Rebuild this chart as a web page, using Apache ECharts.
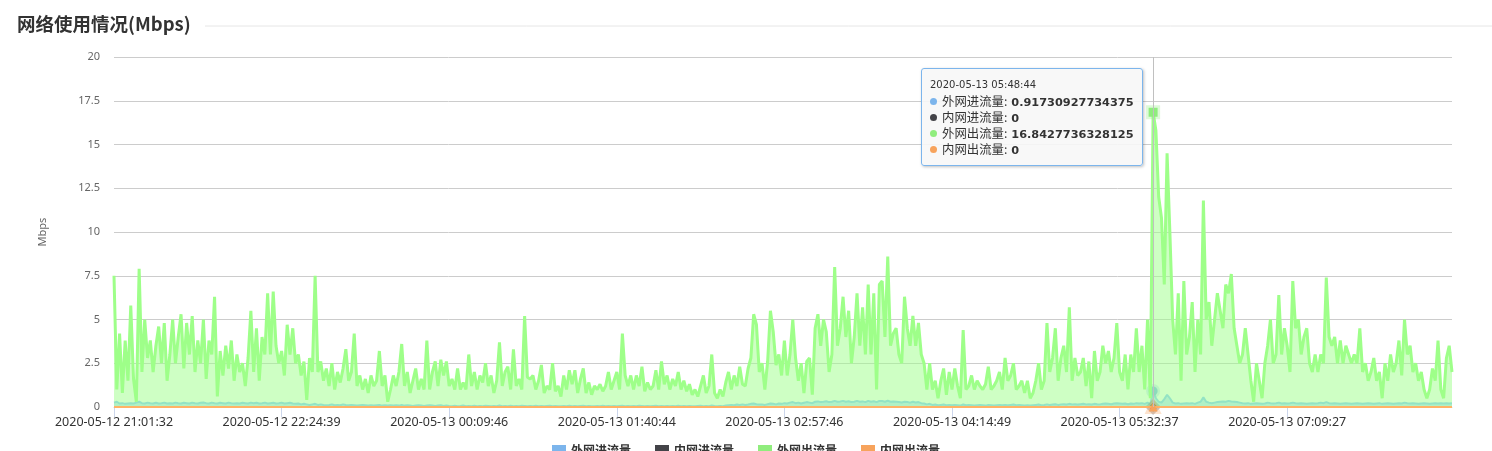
<!DOCTYPE html>
<html>
<head>
<meta charset="utf-8">
<script src="https://cdn.jsdelivr.net/npm/echarts@6/dist/echarts.min.js"></script>
<style>
html,body{margin:0;padding:0;background:#fff;}
#main{width:1492px;height:451px;}
</style>
</head>
<body>
<div id="main"></div>
<script>
// ---------- DATA ----------
const titleText = '网络使用情况(Mbps)';
const yAxisName = 'Mbps';
const seriesNames = ['外网进流量', '内网进流量', '外网出流量', '内网出流量'];
const seriesColors = ['#7cb5ec', '#434348', '#90ed7d', '#f7a35c'];
const seriesSymbols = ['circle', 'diamond', 'rect', 'triangle'];
const yTicks = [0, 2.5, 5, 7.5, 10, 12.5, 15, 17.5, 20];
// x tick labels (every LABEL_STEP categories)
const tickLabels = ['2020-05-12 21:01:32', '2020-05-12 22:24:39', '2020-05-13 00:09:46', '2020-05-13 01:40:44',
  '2020-05-13 02:57:46', '2020-05-13 04:14:49', '2020-05-13 05:32:37', '2020-05-13 07:09:27'];
const LABEL_STEP = 60;
const hoverTime = '2020-05-13 05:48:44';
const HOVER_INDEX = 372;

// 外网进流量
const extIn = [
 [0.25,0.3,0.2,0.22,0.18,0.2,0.22,0.2,0.25,0.3,0.22,0.2,0.25,0.22,0.2,0.24,0.2,0.22,0.25,0.2],
 [0.22,0.2,0.25,0.22,0.2,0.24,0.22,0.2,0.25,0.22,0.2,0.24,0.26,0.22,0.2,0.25,0.22,0.2,0.24,0.22],
 [0.2,0.25,0.22,0.2,0.22,0.2,0.24,0.22,0.2,0.25,0.22,0.24,0.2,0.22,0.25,0.2,0.22,0.24,0.2,0.22],
 [0.25,0.2,0.22,0.24,0.2,0.18,0.2,0.15,0.18,0.15,0.12,0.15,0.18,0.12,0.15,0.12,0.1,0.12,0.15,0.1],
 [0.12,0.1,0.15,0.12,0.1,0.12,0.1,0.08,0.1,0.12,0.1,0.08,0.1,0.08,0.1,0.12,0.08,0.1,0.08,0.1],
 [0.08,0.1,0.08,0.12,0.08,0.1,0.08,0.06,0.08,0.1,0.08,0.06,0.08,0.1,0.08,0.06,0.08,0.1,0.06,0.08],
 [0.06,0.05,0.07,0.05,0.06,0.08,0.05,0.06,0.05,0.07,0.05,0.06,0.05,0.07,0.06,0.05,0.06,0.05,0.08,0.05],
 [0.06,0.05,0.07,0.05,0.06,0.05,0.07,0.06,0.05,0.06,0.05,0.07,0.05,0.06,0.05,0.06,0.07,0.05,0.06,0.05],
 [0.05,0.06,0.05,0.07,0.05,0.06,0.05,0.06,0.07,0.05,0.06,0.05,0.05,0.06,0.05,0.07,0.05,0.06,0.05,0.06],
 [0.05,0.06,0.07,0.05,0.06,0.05,0.06,0.05,0.07,0.06,0.05,0.06,0.05,0.06,0.07,0.05,0.06,0.05,0.06,0.05],
 [0.06,0.05,0.07,0.05,0.06,0.05,0.06,0.05,0.05,0.06,0.07,0.05,0.06,0.05,0.08,0.06,0.05,0.06,0.05,0.08],
 [0.1,0.12,0.1,0.14,0.12,0.15,0.12,0.14,0.18,0.2,0.16,0.14,0.15,0.12,0.16,0.2,0.18,0.15,0.2,0.18],
 [0.22,0.2,0.25,0.28,0.22,0.25,0.2,0.24,0.28,0.25,0.22,0.3,0.32,0.28,0.3,0.33,0.28,0.3,0.35,0.3],
 [0.32,0.35,0.3,0.33,0.28,0.3,0.35,0.3,0.32,0.28,0.35,0.3,0.33,0.28,0.35,0.34,0.3,0.36,0.3,0.32],
 [0.3,0.28,0.26,0.3,0.28,0.25,0.3,0.26,0.28,0.22,0.2,0.15,0.18,0.12,0.14,0.1,0.12,0.14,0.1,0.12],
 [0.1,0.12,0.1,0.08,0.14,0.1,0.12,0.1,0.08,0.1,0.12,0.1,0.08,0.12,0.1,0.08,0.1,0.12,0.1,0.12],
 [0.1,0.12,0.14,0.1,0.12,0.1,0.08,0.1,0.08,0.1,0.12,0.14,0.1,0.12,0.15,0.12,0.14,0.16,0.12,0.15],
 [0.16,0.14,0.18,0.15,0.16,0.14,0.16,0.18,0.15,0.16,0.14,0.18,0.16,0.15,0.18,0.2,0.18,0.16,0.2,0.22],
 [0.2,0.18,0.2,0.16,0.2,0.18,0.22,0.2,0.22,0.18,0.25,0.15,0.91730927734375,0.5,0.3,0.25,0.45,0.7,0.5,0.25],
 [0.2,0.22,0.18,0.2,0.22,0.2,0.22,0.18,0.25,0.3,0.55,0.3,0.25,0.22,0.25,0.28,0.3,0.32,0.3,0.35],
 [0.32,0.3,0.28,0.25,0.22,0.2,0.22,0.18,0.2,0.22,0.2,0.18,0.2,0.25,0.22,0.2,0.22,0.25,0.2,0.22],
 [0.2,0.22,0.25,0.22,0.2,0.22,0.2,0.18,0.2,0.22,0.2,0.22,0.25,0.22,0.28,0.22,0.2,0.22,0.2,0.18],
 [0.2,0.22,0.2,0.18,0.2,0.22,0.2,0.18,0.2,0.22,0.2,0.18,0.2,0.22,0.18,0.2,0.22,0.2,0.18,0.2],
 [0.22,0.2,0.25,0.22,0.2,0.22,0.2,0.18,0.2,0.22,0.2,0.18,0.2,0.22,0.2,0.22,0.2,0.22,0.2,0.22]
].flat();

// 内网进流量
const intIn = [
 [0,0,0,0,0,0,0,0,0,0,0,0,0,0,0,0,0,0,0,0],[0,0,0,0,0,0,0,0,0,0,0,0,0,0,0,0,0,0,0,0],
 [0,0,0,0,0,0,0,0,0,0,0,0,0,0,0,0,0,0,0,0],[0,0,0,0,0,0,0,0,0,0,0,0,0,0,0,0,0,0,0,0],
 [0,0,0,0,0,0,0,0,0,0,0,0,0,0,0,0,0,0,0,0],[0,0,0,0,0,0,0,0,0,0,0,0,0,0,0,0,0,0,0,0],
 [0,0,0,0,0,0,0,0,0,0,0,0,0,0,0,0,0,0,0,0],[0,0,0,0,0,0,0,0,0,0,0,0,0,0,0,0,0,0,0,0],
 [0,0,0,0,0,0,0,0,0,0,0,0,0,0,0,0,0,0,0,0],[0,0,0,0,0,0,0,0,0,0,0,0,0,0,0,0,0,0,0,0],
 [0,0,0,0,0,0,0,0,0,0,0,0,0,0,0,0,0,0,0,0],[0,0,0,0,0,0,0,0,0,0,0,0,0,0,0,0,0,0,0,0],
 [0,0,0,0,0,0,0,0,0,0,0,0,0,0,0,0,0,0,0,0],[0,0,0,0,0,0,0,0,0,0,0,0,0,0,0,0,0,0,0,0],
 [0,0,0,0,0,0,0,0,0,0,0,0,0,0,0,0,0,0,0,0],[0,0,0,0,0,0,0,0,0,0,0,0,0,0,0,0,0,0,0,0],
 [0,0,0,0,0,0,0,0,0,0,0,0,0,0,0,0,0,0,0,0],[0,0,0,0,0,0,0,0,0,0,0,0,0,0,0,0,0,0,0,0],
 [0,0,0,0,0,0,0,0,0,0,0,0,0,0,0,0,0,0,0,0],[0,0,0,0,0,0,0,0,0,0,0,0,0,0,0,0,0,0,0,0],
 [0,0,0,0,0,0,0,0,0,0,0,0,0,0,0,0,0,0,0,0],[0,0,0,0,0,0,0,0,0,0,0,0,0,0,0,0,0,0,0,0],
 [0,0,0,0,0,0,0,0,0,0,0,0,0,0,0,0,0,0,0,0],[0,0,0,0,0,0,0,0,0,0,0,0,0,0,0,0,0,0,0,0]
].flat();

// 外网出流量
const extOut = [
 [7.5,1.0,4.2,0.8,3.8,1.5,5.8,1.6,0.3,7.9,2.0,5.0,2.8,3.8,2.0,3.5,4.6,2.5,4.8,1.5],
 [3.0,5.0,2.5,4.0,5.3,2.2,4.8,3.0,5.2,2.0,3.8,2.5,5.0,1.6,3.8,3.0,6.3,0.6,3.2,1.8],
 [3.5,2.2,3.8,1.5,3.0,2.0,2.5,1.2,2.8,5.5,2.0,4.5,1.5,4.0,3.0,6.5,3.0,6.6,3.5,2.5],
 [3.2,1.8,4.7,3.0,4.5,2.5,3.0,1.8,2.6,0.4,2.8,2.0,7.5,2.0,2.6,1.5,2.2,1.2,2.5,1.0],
 [2.0,1.4,2.2,3.3,1.5,2.0,4.2,1.2,1.8,1.0,1.6,0.8,1.8,1.2,1.5,3.2,1.2,1.8,0.3,1.0],
 [1.8,1.2,2.0,3.6,1.2,2.0,0.8,1.5,2.2,1.0,1.6,1.0,3.8,1.0,2.0,2.6,1.2,2.7,1.8,2.6],
 [1.2,1.6,1.0,2.2,1.0,1.4,1.0,3.0,1.2,2.0,1.0,1.8,1.4,2.5,1.2,1.8,0.8,1.5,3.7,1.2],
 [2.0,2.3,1.0,3.3,1.2,1.6,1.0,5.2,1.7,1.6,1.8,1.0,1.5,2.4,0.8,1.2,1.0,2.5,0.9,1.2],
 [0.6,1.8,1.0,2.1,1.3,2.1,0.8,1.6,2.2,0.8,1.4,0.7,1.2,1.0,1.3,0.9,1.2,2.0,1.0,1.5],
 [2.0,1.0,4.2,1.8,1.2,1.8,1.0,1.8,1.2,2.3,0.9,1.4,1.0,1.2,2.1,1.0,2.6,1.3,1.8,1.0],
 [1.6,1.2,2.0,1.0,1.5,0.9,1.3,0.7,1.0,0.6,1.2,1.8,0.8,1.2,3.0,0.8,0.5,1.0,0.6,1.4],
 [2.0,1.0,1.8,1.2,2.3,1.3,1.2,2.2,2.8,5.3,4.7,2.0,2.5,1.0,2.6,5.5,4.3,2.4,3.0,1.8],
 [3.8,1.8,3.0,5.0,2.8,1.5,2.5,0.8,2.6,2.8,0.7,4.5,5.3,3.5,5.0,4.3,2.0,3.0,8.0,3.5],
 [4.5,6.3,4.0,5.5,2.5,4.0,6.5,3.5,5.7,3.0,7.0,3.0,6.5,1.0,7.0,7.2,4.0,8.6,3.5,4.2],
 [4.5,3.0,2.5,6.3,4.5,3.5,5.2,3.5,4.8,3.0,2.5,1.0,2.5,1.0,1.5,0.5,1.5,2.2,0.7,2.0],
 [1.0,2.2,1.2,0.5,4.4,1.0,1.2,1.8,1.0,1.5,1.2,1.0,1.3,2.3,1.0,1.2,1.5,2.0,1.0,2.8],
 [1.5,1.8,2.5,1.0,1.2,1.5,0.8,1.5,0.5,0.8,1.5,2.5,1.0,1.5,4.8,2.0,2.8,4.5,1.5,2.8],
 [3.5,2.0,5.7,1.5,2.8,1.8,2.0,2.8,1.2,2.6,0.5,3.2,1.5,2.0,3.5,2.5,3.2,2.0,2.8,4.8],
 [2.0,1.5,3.0,1.0,3.0,2.0,4.5,2.0,3.5,1.0,5.0,0.5,16.8427736328125,15.8,12.0,10.8,7.0,14.5,10.0,5.0],
 [3.0,6.5,1.5,7.2,3.0,4.0,6.0,2.0,5.0,3.0,11.8,5.0,6.0,3.5,5.0,6.5,5.5,4.5,7.0,6.5],
 [7.6,4.5,3.5,2.5,3.0,4.5,3.0,1.5,0.3,2.5,1.5,0.5,2.5,3.5,5.0,2.5,3.0,6.4,3.0,4.5],
 [3.5,2.0,7.2,4.5,5.0,3.0,4.0,4.5,2.5,2.0,3.0,2.0,3.0,2.5,7.4,4.0,3.5,4.0,2.5,3.8],
 [2.5,3.5,3.0,2.5,3.0,2.5,4.5,2.0,2.5,1.5,2.0,2.8,1.5,2.0,0.5,2.5,1.5,3.0,2.0,2.5],
 [3.8,1.8,5.0,3.0,3.5,2.0,2.5,1.5,2.0,1.0,0.5,1.0,2.2,1.5,3.8,1.0,0.5,2.8,3.5,2.0]
].flat();

// 内网出流量
const intOut = [
 [0,0,0,0,0,0,0,0,0,0,0,0,0,0,0,0,0,0,0,0],[0,0,0,0,0,0,0,0,0,0,0,0,0,0,0,0,0,0,0,0],
 [0,0,0,0,0,0,0,0,0,0,0,0,0,0,0,0,0,0,0,0],[0,0,0,0,0,0,0,0,0,0,0,0,0,0,0,0,0,0,0,0],
 [0,0,0,0,0,0,0,0,0,0,0,0,0,0,0,0,0,0,0,0],[0,0,0,0,0,0,0,0,0,0,0,0,0,0,0,0,0,0,0,0],
 [0,0,0,0,0,0,0,0,0,0,0,0,0,0,0,0,0,0,0,0],[0,0,0,0,0,0,0,0,0,0,0,0,0,0,0,0,0,0,0,0],
 [0,0,0,0,0,0,0,0,0,0,0,0,0,0,0,0,0,0,0,0],[0,0,0,0,0,0,0,0,0,0,0,0,0,0,0,0,0,0,0,0],
 [0,0,0,0,0,0,0,0,0,0,0,0,0,0,0,0,0,0,0,0],[0,0,0,0,0,0,0,0,0,0,0,0,0,0,0,0,0,0,0,0],
 [0,0,0,0,0,0,0,0,0,0,0,0,0,0,0,0,0,0,0,0],[0,0,0,0,0,0,0,0,0,0,0,0,0,0,0,0,0,0,0,0],
 [0,0,0,0,0,0,0,0,0,0,0,0,0,0,0,0,0,0,0,0],[0,0,0,0,0,0,0,0,0,0,0,0,0,0,0,0,0,0,0,0],
 [0,0,0,0,0,0,0,0,0,0,0,0,0,0,0,0,0,0,0,0],[0,0,0,0,0,0,0,0,0,0,0,0,0,0,0,0,0,0,0,0],
 [0,0,0,0,0,0,0,0,0,0,0,0,0,0,0,0,0,0,0,0],[0,0,0,0,0,0,0,0,0,0,0,0,0,0,0,0,0,0,0,0],
 [0,0,0,0,0,0,0,0,0,0,0,0,0,0,0,0,0,0,0,0],[0,0,0,0,0,0,0,0,0,0,0,0,0,0,0,0,0,0,0,0],
 [0,0,0,0,0,0,0,0,0,0,0,0,0,0,0,0,0,0,0,0],[0,0,0,0,0,0,0,0,0,0,0,0,0,0,0,0,0,0,0,0]
].flat();

// ---------- categories (timestamps) from the tick-label anchors ----------
function parseTime(s) {
  const [d, t] = s.split(' ');
  const [Y, M, D] = d.split('-').map(Number);
  const [h, m, sec] = t.split(':').map(Number);
  return Date.UTC(Y, M - 1, D, h, m, sec);
}
function fmtTime(ms) {
  const d = new Date(ms);
  const p = n => String(n).padStart(2, '0');
  return d.getUTCFullYear() + '-' + p(d.getUTCMonth() + 1) + '-' + p(d.getUTCDate()) + ' ' +
    p(d.getUTCHours()) + ':' + p(d.getUTCMinutes()) + ':' + p(d.getUTCSeconds());
}
const N = extOut.length;
const anchors = tickLabels.map((s, k) => [k * LABEL_STEP, parseTime(s)]);
anchors.push([HOVER_INDEX, parseTime(hoverTime)]);
anchors.sort((a, b) => a[0] - b[0]);
const categories = [];
for (let i = 0; i < N; i++) {
  let a = anchors[0], b = anchors[1];
  for (let k = 0; k < anchors.length - 1; k++) {
    if (i >= anchors[k][0]) { a = anchors[k]; b = anchors[k + 1]; }
  }
  const ms = a[1] + (b[1] - a[1]) * (i - a[0]) / (b[0] - a[0]);
  categories.push(fmtTime(Math.round(ms / 1000) * 1000));
}

// ---------- chart ----------
const FONT = "'Noto Sans', 'Noto Sans CJK SC', sans-serif";
const TIP_FONT = "'DejaVu Sans', 'Noto Sans CJK SC', sans-serif";
const chart = echarts.init(document.getElementById('main'), null, { renderer: 'canvas' });
const seriesData = [extIn, intIn, extOut, intOut];
function rgba(hex, a) {
  const n = parseInt(hex.slice(1), 16);
  return `rgba(${(n >> 16) & 255},${(n >> 8) & 255},${n & 255},${a})`;
}

const option = {
  animation: false,
  textStyle: { fontFamily: FONT },
  title: {
    text: titleText, left: 12, top: 10,
    textStyle: { fontSize: 18.5, fontWeight: 'bold', color: '#333', fontFamily: "'Noto Sans CJK SC', sans-serif" }
  },
  graphic: [{
    type: 'line', shape: { x1: 205, y1: 26, x2: 1492, y2: 26 },
    style: { stroke: '#e6e6e6', lineWidth: 1 }, silent: true
  }],
  grid: { left: 114, right: 40, top: 57, bottom: 44 },
  legend: {
    data: seriesNames, left: 'center', top: 440, icon: 'rect',
    itemWidth: 14, itemHeight: 14, itemGap: 24,
    textStyle: { fontSize: 12, fontWeight: 'bold', color: '#333', fontFamily: FONT }
  },
  tooltip: {
    trigger: 'axis', alwaysShowContent: true, confine: false,
    position: function () { return [921, 68]; },
    backgroundColor: 'rgba(247,247,247,0.9)', borderColor: '#7cb5ec', borderWidth: 1,
    padding: [8, 8],
    textStyle: { fontFamily: FONT, fontSize: 12, color: '#333' },
    extraCssText: 'border-radius:3px;box-shadow:1px 1px 3px rgba(0,0,0,0.25);line-height:16px;',
    axisPointer: { type: 'line', lineStyle: { color: '#c0c0c0', width: 1, type: 'solid' } },
    formatter: function (params) {
      let h = `<div style="font-family:${TIP_FONT};font-size:10px;height:16px;line-height:16px;color:#333;white-space:nowrap">${params[0].axisValue}</div>`;
      params.forEach(p => {
        h += `<div style="font-family:${TIP_FONT};font-size:12.4px;height:16px;line-height:16px;overflow:visible;color:#333;white-space:nowrap">` +
          `<span style="display:inline-block;width:7px;height:7px;border-radius:50%;background:${seriesColors[p.seriesIndex]};margin-right:5px;vertical-align:1px"></span>` +
          `<span style="font-family:'Noto Sans CJK SC',sans-serif;line-height:16px">${p.seriesName}:</span> ` +
          `<b style="font-size:11.3px;line-height:16px">${p.value}</b></div>`;
      });
      return h;
    }
  },
  xAxis: {
    type: 'category', boundaryGap: false, data: categories,
    axisLine: { lineStyle: { color: '#ccd6eb', width: 1 } },
    axisTick: { show: true, interval: LABEL_STEP - 1, length: 10, lineStyle: { color: '#ccd6eb' } },
    axisLabel: { interval: LABEL_STEP - 1, color: '#333', fontSize: 12.5, margin: 9, fontFamily: FONT },
    splitLine: { show: false }
  },
  yAxis: {
    type: 'value', min: yTicks[0], max: yTicks[yTicks.length - 1], interval: yTicks[1] - yTicks[0],
    name: yAxisName, nameLocation: 'middle', nameGap: 66, nameRotate: 90,
    nameTextStyle: { color: '#666', fontSize: 11, fontFamily: FONT },
    axisLine: { show: false }, axisTick: { show: false },
    axisLabel: { color: '#666', fontSize: 11, margin: 14, fontFamily: FONT },
    splitLine: { lineStyle: { color: '#cccccc', width: 1 } }
  },
  series: seriesNames.map((name, k) => ({
    name: name, type: 'line', data: seriesData[k],
    showSymbol: false, symbol: seriesSymbols[k], symbolSize: 9,
    itemStyle: { color: seriesColors[k] },
    lineStyle: { width: k === 2 ? 3 : 2, color: seriesColors[k] },
    areaStyle: (k === 0 || k === 2) ? { color: seriesColors[k], opacity: 0.5 } : undefined,
    emphasis: {
      scale: false,
      itemStyle: { color: seriesColors[k], borderColor: rgba(seriesColors[k], 0.3), borderWidth: 5 }
    },
    z: 2 + k
  }))
};
chart.setOption(option);
chart.dispatchAction({ type: 'showTip', seriesIndex: 2, dataIndex: HOVER_INDEX });
</script>
</body>
</html>
